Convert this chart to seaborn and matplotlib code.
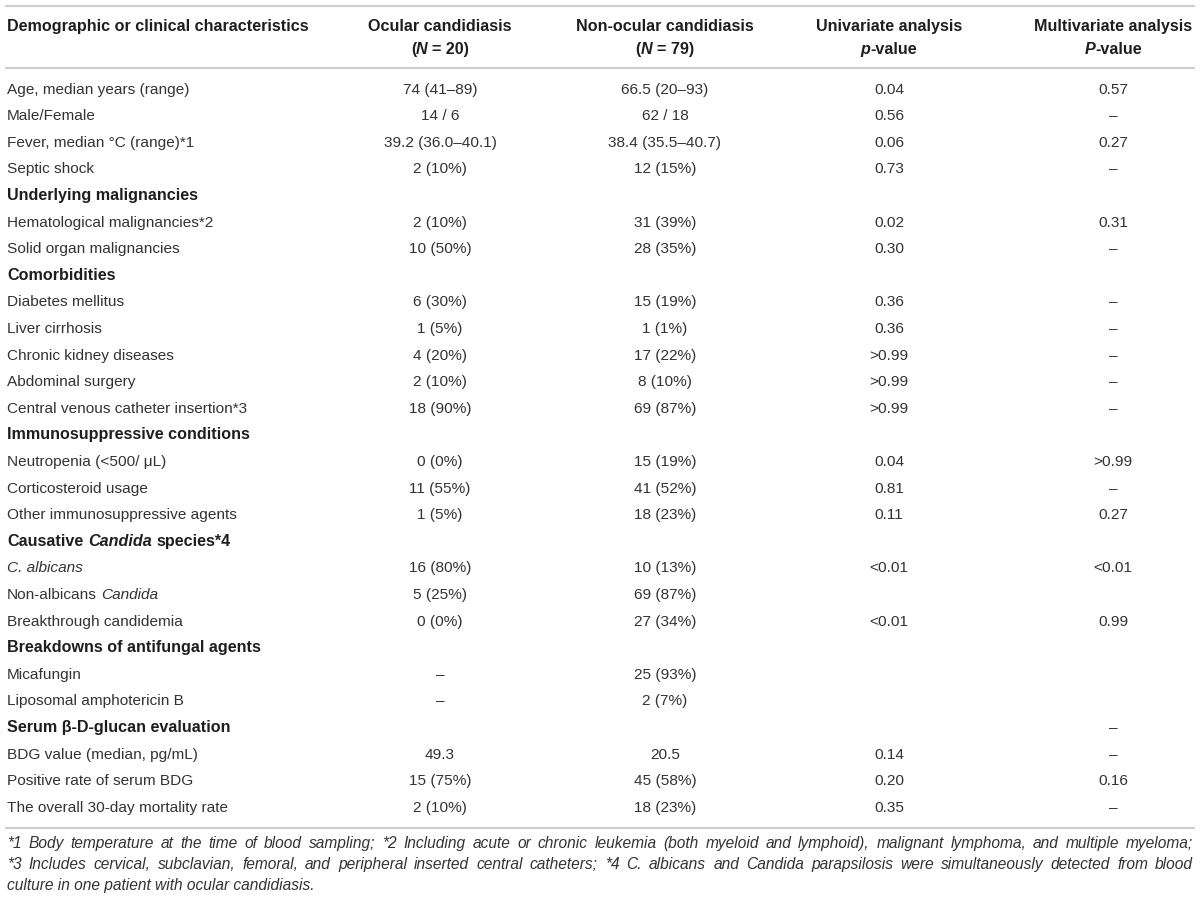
import numpy as np
import pandas as pd
import seaborn as sns
import matplotlib
matplotlib.use("Agg")
import matplotlib.pyplot as plt

# ---------------- data ----------------
characteristics = [
    "Age, median years (range)", "Male/Female", "Fever, median °C (range)*1", "Septic shock",
    "Underlying malignancies", "Hematological malignancies*2", "Solid organ malignancies",
    "Comorbidities", "Diabetes mellitus", "Liver cirrhosis", "Chronic kidney diseases",
    "Abdominal surgery", "Central venous catheter insertion*3",
    "Immunosuppressive conditions", "Neutropenia (<500/ μL)", "Corticosteroid usage",
    "Other immunosuppressive agents",
    "Causative Candida species*4", "C. albicans", "Non-albicans Candida", "Breakthrough candidemia",
    "Breakdowns of antifungal agents", "Micafungin", "Liposomal amphotericin B",
    "Serum β-D-glucan evaluation", "BDG value (median, pg/mL)", "Positive rate of serum BDG",
    "The overall 30-day mortality rate",
]
ocular = ["74 (41–89)", "14 / 6", "39.2 (36.0–40.1)", "2 (10%)",
          "", "2 (10%)", "10 (50%)",
          "", "6 (30%)", "1 (5%)", "4 (20%)", "2 (10%)", "18 (90%)",
          "", "0 (0%)", "11 (55%)", "1 (5%)",
          "", "16 (80%)", "5 (25%)", "0 (0%)",
          "", "–", "–",
          "", "49.3", "15 (75%)", "2 (10%)"]
non_ocular = ["66.5 (20–93)", "62 / 18", "38.4 (35.5–40.7)", "12 (15%)",
              "", "31 (39%)", "28 (35%)",
              "", "15 (19%)", "1 (1%)", "17 (22%)", "8 (10%)", "69 (87%)",
              "", "15 (19%)", "41 (52%)", "18 (23%)",
              "", "10 (13%)", "69 (87%)", "27 (34%)",
              "", "25 (93%)", "2 (7%)",
              "", "20.5", "45 (58%)", "18 (23%)"]
univariate = ["0.04", "0.56", "0.06", "0.73",
              "", "0.02", "0.30",
              "", "0.36", "0.36", ">0.99", ">0.99", ">0.99",
              "", "0.04", "0.81", "0.11",
              "", "<0.01", "", "<0.01",
              "", "", "",
              "", "0.14", "0.20", "0.35"]
multivariate = ["0.57", "–", "0.27", "–",
                "", "0.31", "–",
                "", "–", "–", "–", "–", "–",
                "", ">0.99", "–", "0.27",
                "", "<0.01", "", "0.99",
                "", "", "",
                "–", "–", "0.16", "–"]
section_rows = ["Underlying malignancies", "Comorbidities", "Immunosuppressive conditions",
                "Causative Candida species*4", "Breakdowns of antifungal agents",
                "Serum β-D-glucan evaluation"]
header_col0 = "Demographic or clinical characteristics"
header_top = ["Ocular candidiasis", "Non-ocular candidiasis", "Univariate analysis", "Multivariate analysis"]
header_bottom = [[("(", "normal"), ("N", "italic"), (" = 20)", "normal")],
                 [("(", "normal"), ("N", "italic"), (" = 79)", "normal")],
                 [("p", "italic"), ("-value", "normal")],
                 [("P", "italic"), ("-value", "normal")]]
footnotes = [
    "*1 Body temperature at the time of blood sampling; *2 Including acute or chronic leukemia (both myeloid and lymphoid), malignant lymphoma, and multiple myeloma;",
    "*3 Includes cervical, subclavian, femoral, and peripheral inserted central catheters; *4 C. albicans and Candida parapsilosis were simultaneously detected from blood",
    "culture in one patient with ocular candidiasis.",
]

df = pd.DataFrame({"char": characteristics, "ocular": ocular, "non": non_ocular,
                   "uni": univariate, "multi": multivariate})

# ---------------- layout ----------------
sns.set_theme(style="white")
plt.rcParams["font.family"] = ["Liberation Sans", "DejaVu Sans"]

W, H = 1200, 901
fig = plt.figure(figsize=(W / 100, H / 100), dpi=100)
ax = fig.add_axes([0, 0, 1, 1])
ax.set_xlim(0, W)
ax.set_ylim(H, 0)
ax.axis("off")
renderer = fig.canvas.get_renderer()

TXT = "#333333"
HDR = "#1e1e1e"
LINE = "#cfcfcf"
FS = 11.1
BFS = 11.6

col_x0 = 7
col_centers = [440, 665, 889, 1113]
row_y0, row_dy = 88, 26.6
row_y = row_y0 + np.arange(len(df)) * row_dy


def _w(s, **kw):
    t = ax.text(0, 0, s, **kw)
    w = t.get_window_extent(renderer).width
    t.remove()
    return w


def run_width(s, **kw):
    return _w("|" + s + "|", **kw) - _w("||", **kw)


def draw_runs(x, yc, runs, ha="left", size=FS, color=TXT, base_weight="normal", dy=5.6):
    items = []
    for r in runs:
        txt, style = r[0], r[1]
        weight = r[2] if len(r) > 2 else base_weight
        kw = dict(fontsize=size, fontstyle=style, fontweight=weight)
        items.append((txt, kw, run_width(txt, **kw)))
    total = sum(i[2] for i in items)
    if ha == "center":
        x = x - total / 2
    for txt, kw, w in items:
        lead = len(txt) - len(txt.lstrip())
        xx = x + (run_width(txt[:lead], **kw) if lead else 0)
        if txt.strip():
            ax.text(xx, yc + dy, txt.strip(), ha="left", va="baseline", color=color, **kw)
        x += w


# rules
ax.hlines([6, 68, 828], 5, 1195, colors=LINE, linewidth=1.6)

# header
draw_runs(col_x0, 25, [(header_col0, "normal")], size=BFS, base_weight="bold", color=HDR)
for cx, top, bot in zip(col_centers, header_top, header_bottom):
    draw_runs(cx, 25, [(top, "normal")], ha="center", size=BFS, base_weight="bold", color=HDR)
    draw_runs(cx, 48, bot, ha="center", size=BFS, base_weight="bold", color=HDR)


def label_runs(label):
    if label == "Causative Candida species*4":
        return [("Causative ", "normal", "bold"), ("Candida", "italic", "bold"),
                (" species*4", "normal", "bold")]
    if label in section_rows:
        return [(label, "normal", "bold")]
    if label == "C. albicans":
        return [(label, "italic")]
    if label == "Non-albicans Candida":
        return [("Non-albicans ", "normal"), ("Candida", "italic")]
    return [(label, "normal")]


for y, (_, row) in zip(row_y, df.iterrows()):
    is_sec = row["char"] in section_rows
    draw_runs(col_x0, y, label_runs(row["char"]), size=BFS if is_sec else FS,
              color=HDR if is_sec else TXT)
    for cx, key in zip(col_centers, ["ocular", "non", "uni", "multi"]):
        if row[key]:
            draw_runs(cx, y, [(row[key], "normal")], ha="center")

# footnotes (justified except last line)
FN_FS = 11.2
fn_y = [843, 864, 885]
left, right = 7, 1193
kw_fn = dict(fontsize=FN_FS, fontstyle="italic")
nat = max(run_width(l, **kw_fn) for l in footnotes[:-1])
if nat > right - left:
    kw_fn["fontsize"] = FN_FS * (right - left - 4) / nat
for i, (y, line) in enumerate(zip(fn_y, footnotes)):
    words = line.split(" ")
    if i < len(footnotes) - 1:
        ws = [run_width(w_, **kw_fn) for w_ in words]
        gap = (right - left - sum(ws)) / (len(words) - 1)
        x = left
        for w_, wd in zip(words, ws):
            ax.text(x, y + 5, w_, ha="left", va="baseline", color=TXT, **kw_fn)
            x += wd + gap
    else:
        ax.text(left, y + 5, line, ha="left", va="baseline", color=TXT, **kw_fn)

fig.savefig("out.png", dpi=100)
